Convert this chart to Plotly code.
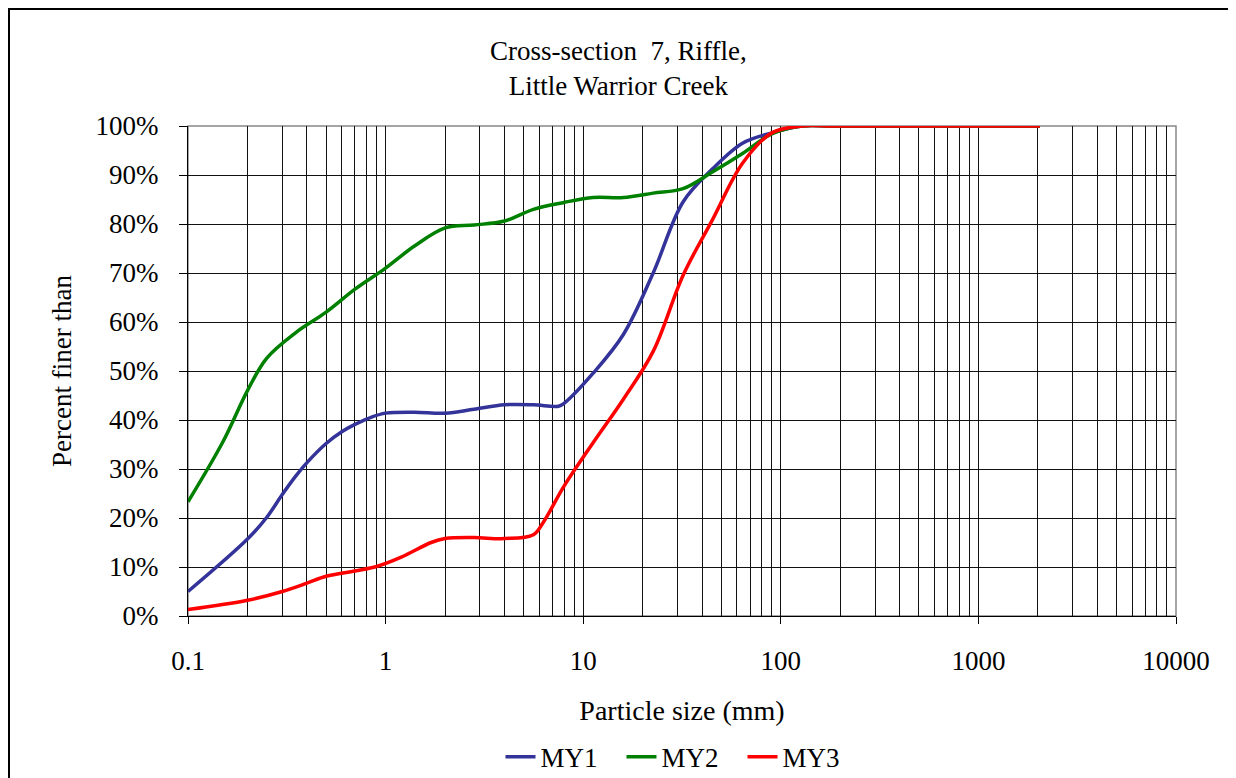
import plotly.graph_objects as go

# ---- data ----
size_my1 = [0.1, 0.2, 0.25, 0.3, 0.35, 0.4, 0.5, 0.6, 0.7, 0.85, 1, 1.4, 2, 2.8, 4, 5.6, 7.5, 8, 11.2, 16, 22.6, 32, 45, 64, 90, 128, 180, 256, 2048]
pct_my1 = [5.0, 15.7, 20.1, 24.8, 28.5, 31.3, 35.2, 37.6, 39.1, 40.6, 41.4, 41.6, 41.4, 42.2, 43.1, 43.1, 42.8, 43.4, 49.5, 57.5, 70.0, 84.5, 91.2, 96.5, 98.6, 100, 100, 100, 100]

size_my2 = [0.1, 0.15, 0.2, 0.25, 0.35, 0.5, 0.7, 1, 1.4, 2, 2.8, 4, 5.6, 8, 11.2, 16, 22.6, 32, 45, 64, 90, 128, 180, 256, 2048]
pct_my2 = [23.3, 35.5, 46.0, 52.6, 57.8, 62.0, 66.7, 71.0, 75.5, 79.2, 79.8, 80.6, 83.0, 84.4, 85.4, 85.4, 86.3, 87.2, 90.6, 94.4, 98.4, 100, 100, 100, 100]

size_my3 = [0.1, 0.2, 0.3, 0.4, 0.5, 0.7, 0.9, 1.2, 1.7, 2, 2.8, 4, 5.6, 6.3, 8, 11.2, 16, 22.6, 32, 45, 64, 90, 128, 180, 256, 2048]
pct_my3 = [1.3, 3.2, 5.0, 6.7, 8.1, 9.2, 10.1, 12.0, 15.0, 15.8, 16.0, 15.8, 16.6, 19.2, 26.5, 35.3, 44.3, 54.0, 69.5, 80.8, 92.4, 98.6, 100, 100, 100, 100]

series = [
    ("MY1", size_my1, pct_my1, "#333399"),
    ("MY2", size_my2, pct_my2, "#008000"),
    ("MY3", size_my3, pct_my3, "#FF0000"),
]

decades = [0.1, 1, 10, 100, 1000, 10000]
decade_labels = ["0.1", "1", "10", "100", "1000", "10000"]
minor_vals = [k * d for d in decades[:-1] for k in range(2, 10)]
pct_ticks = list(range(0, 101, 10))
pct_labels = [f"{v}%" for v in pct_ticks]

font = "Liberation Serif, Times New Roman, serif"

fig = go.Figure()
for name, xs, ys, col in series:
    fig.add_trace(go.Scatter(
        x=xs, y=ys, name=name, mode="lines", cliponaxis=False,
        line=dict(color=col, width=3.5, shape="spline", smoothing=1.0),
    ))

# page body has an 8px margin, so the figure is a bit smaller than the window
fig.update_layout(
    width=1228, height=770,
    margin=dict(l=180, r=60, t=118, b=162, autoexpand=False),
    paper_bgcolor="white", plot_bgcolor="white",
    font=dict(family=font, size=27, color="black"),
    title=dict(text="Cross-section  7, Riffle,<br>Little Warrior Creek",
               x=0.497, xanchor="center", y=0.9325, yanchor="middle", yref="container",
               font=dict(size=27)),
    showlegend=True,
    legend=dict(orientation="h", x=0.5, xanchor="center", y=0.027, yanchor="middle",
                yref="container", font=dict(size=27), tracegroupgap=0,
                entrywidth=76, entrywidthmode="pixels"),
)

fig.update_xaxes(
    type="log", range=[-1, 4],
    tickmode="array", tickvals=decades, ticktext=decade_labels,
    ticks="outside", ticklen=7, tickcolor="black",
    showgrid=True, gridcolor="#111", gridwidth=1,
    minor=dict(tickmode="array", tickvals=minor_vals, showgrid=True,
               gridcolor="#111", gridwidth=1, ticks=""),
    showline=True, linecolor="black", linewidth=1, mirror=False,
    ticklabelstandoff=14,
    title=dict(text="Particle size (mm)", standoff=24, font=dict(size=28)),
    zeroline=False,
)
fig.update_yaxes(
    range=[0, 100],
    tickmode="array", tickvals=pct_ticks, ticktext=pct_labels,
    ticks="outside", ticklen=8, tickcolor="black",
    showgrid=True, gridcolor="#111", gridwidth=1,
    showline=True, linecolor="black", linewidth=1,
    ticklabelstandoff=15,
    title=dict(text="Percent finer than", standoff=16, font=dict(size=27)),
    zeroline=False,
)

# plot-area border (top/right in grey) and outer chart frame
fig.add_shape(type="rect", xref="paper", yref="paper", x0=0, x1=1, y0=0, y1=1,
              line=dict(color="#888", width=1.5), layer="between")
fig.add_shape(type="rect", xref="paper", yref="paper",
              x0=(1 - 180) / 988, x1=(1250 - 180) / 988,
              y0=-0.5, y1=(608 - 1) / 490,
              line=dict(color="black", width=2), layer="below")

fig.write_html("out.html")
